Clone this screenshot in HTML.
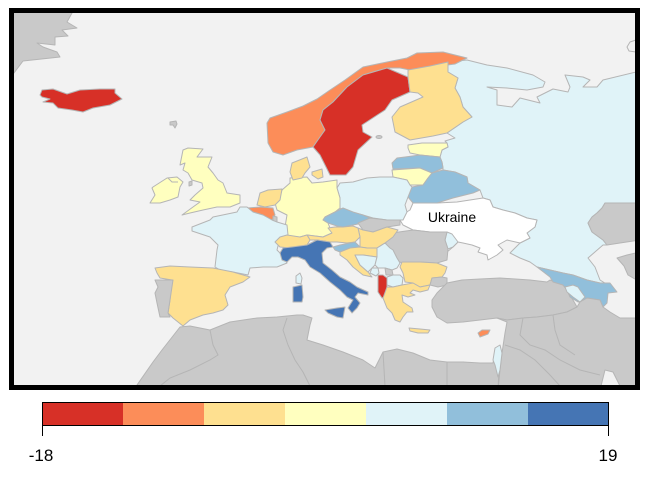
<!DOCTYPE html>
<html><head><meta charset="utf-8"><style>
html,body{margin:0;padding:0;background:#fff;}
svg{display:block;}
</style></head><body>
<svg width="655" height="485" viewBox="0 0 655 485" xmlns="http://www.w3.org/2000/svg">
<defs><clipPath id="c"><rect x="14" y="13" width="621" height="372"/></clipPath></defs>
<rect x="14" y="13" width="621" height="372" fill="#f2f2f2"/>
<g clip-path="url(#c)" stroke="#b5b5b5" stroke-width="1" stroke-linejoin="round">
<!-- Greenland -->
<polygon fill="#c9c9c9" points="10,10 72,10 72,13 67,22 77,28 62,30 68,36 55,37 55,45 37,43 43,47 57,52 60,57 23,61 14,73 10,74"/>
<!-- Iceland -->
<polygon fill="#d73027" points="40,95 42,90 53,89 67,94 80,90 100,89 115,89 115,93 122,99 110,105 93,108 83,112 72,110 58,108 53,103 43,102 50,99 42,97"/>
<polygon fill="#c9c9c9" points="170,122 176,121 177,124 175,128 173,125 170,125"/>
<!-- Russia -->
<polygon fill="#e0f3f8" points="448,62 467,60 487,65 507,68 533,75 545,82 543,87 527,90 507,88 487,87 497,90 497,105 512,107 520,98 540,103 537,97 553,89 568,92 570,87 565,75 583,77 590,80 583,87 597,87 603,80 640,71 640,203 605,203 602,208 597,213 592,217 588,223 592,232 603,240 607,245 603,245 588,258 595,267 600,280 608,285 600,283 587,280 573,275 563,273 550,270 537,267 530,262 520,258 510,253 520,243 530,238 527,233 535,227 537,220 527,218 515,213 503,210 493,207 490,200 483,198 480,190 468,183 467,177 455,172 443,170 443,168 442,162 440,157 442,150 448,147 447,143 445,141 455,138 447,133 463,122 472,117 463,107 460,97 455,88 458,78 448,72"/>
<polygon fill="#f2f2f2" points="627,47 630,42 636,40 636,52 629,51"/>
<!-- Kazakhstan -->
<polygon fill="#c9c9c9" points="605,203 640,203 640,240 620,243 607,245 603,240 592,232 588,223 592,217 597,213 602,208"/>
<polygon fill="#c9c9c9" points="617,258 627,255 640,252 640,282 628,275 624,266"/>
<!-- Norway -->
<polygon fill="#fc8d59" points="267,123 270,118 287,112 303,106 317,99 330,90 345,80 363,67 387,62 407,58 417,53 443,52 467,58 455,64 440,66 420,70 410,70 400,68 387,68 363,75 347,87 333,102 323,110 320,120 325,130 320,137 313,147 297,150 283,155 273,152 268,143"/>
<!-- Sweden -->
<polygon fill="#d73027" points="323,110 333,102 347,87 363,75 387,68 408,77 410,92 392,100 385,110 362,125 363,132 372,137 358,150 353,167 346,175 330,175 320,155 313,147 320,137 325,130 320,120"/>
<ellipse cx="379" cy="137" rx="3" ry="1.5" fill="#c9c9c9"/>
<!-- Finland -->
<polygon fill="#fee090" points="408,70 430,66 448,62 448,72 458,78 455,88 460,97 463,107 472,117 463,122 447,133 433,136 410,140 395,132 392,117 400,107 423,97 418,93 410,92 408,77"/>
<!-- Baltics -->
<polygon fill="#ffffbf" points="408,145 422,143 447,143 448,147 442,150 440,157 420,155 410,153 408,148"/>
<polygon fill="#91bfdb" points="392,163 397,158 405,157 420,155 440,157 442,162 443,168 432,173 420,168 393,169"/>
<polygon fill="#ffffbf" points="392,170 420,168 432,173 428,178 423,185 410,185 407,180 393,177"/>
<polygon fill="#91bfdb" points="432,173 443,170 455,172 467,177 468,183 480,190 473,193 453,198 437,203 413,203 408,197 412,187 423,185 428,178"/>
<!-- Ukraine -->
<polygon fill="#ffffff" points="413,203 437,203 457,202 483,198 490,200 493,207 503,210 515,213 527,218 537,220 535,227 527,233 530,238 520,243 507,240 498,245 503,250 497,255 488,260 487,255 478,252 480,248 472,245 463,243 458,242 453,247 447,252 448,245 452,240 447,232 430,232 413,230 403,225 400,220 405,213 410,210"/>
<polygon fill="#e0f3f8" points="447,232 452,234 455,238 458,242 453,247 448,249 445,240"/>
<!-- Romania -->
<polygon fill="#c9c9c9" points="392,233 413,230 430,232 447,232 445,240 448,249 447,260 437,263 420,262 403,263 393,260 390,250 385,245 387,240"/>
<!-- Poland -->
<polygon fill="#e0f3f8" points="337,188 340,183 353,182 367,178 380,177 393,177 407,180 410,185 412,187 408,197 405,205 407,212 403,220 387,220 373,218 363,215 355,213 347,212 340,208 340,198"/>
<!-- Germany -->
<polygon fill="#ffffbf" points="282,190 290,183 290,178 307,177 312,183 323,182 337,180 337,188 340,198 340,208 335,212 325,217 323,220 328,223 332,233 323,237 307,235 300,237 287,237 285,227 287,215 277,210 275,203 280,197"/>
<!-- Denmark -->
<polygon fill="#fee090" points="292,163 307,157 310,167 305,173 302,178 293,180 290,172"/>
<polygon fill="#fee090" points="312,172 322,169 323,177 318,179 312,175"/>
<!-- Czech -->
<polygon fill="#91bfdb" points="325,217 335,212 343,208 353,212 363,215 370,218 363,223 353,225 343,227 337,226 328,223 323,220"/>
<!-- Slovakia -->
<polygon fill="#c9c9c9" points="358,223 370,218 387,220 400,220 400,225 387,227 373,232 363,230"/>
<!-- Hungary -->
<polygon fill="#fee090" points="358,228 363,230 373,232 387,227 398,230 393,237 385,243 377,248 367,248 360,247 360,237"/>
<!-- Austria -->
<polygon fill="#fee090" points="307,235 323,237 332,233 328,228 335,227 343,227 353,226 358,228 360,237 355,242 347,243 337,242 330,242 317,240 310,240"/>
<!-- Netherlands / Belgium -->
<polygon fill="#fee090" points="260,193 268,190 282,189 280,200 275,205 265,207 257,205"/>
<polygon fill="#fc8d59" points="247,208 260,207 273,208 275,215 272,220 263,215 253,212"/>
<polygon fill="#c9c9c9" points="273,216 277,217 277,222 273,221"/>
<!-- France -->
<polygon fill="#e0f3f8" points="192,227 210,220 213,217 237,212 240,207 247,207 253,212 263,215 272,220 277,222 287,225 288,235 280,238 277,250 282,255 287,263 277,267 263,267 250,268 248,275 233,272 220,270 215,267 217,250 218,245 210,237 192,231"/>
<polygon fill="#e0f3f8" points="296,276 300,273 302,278 301,284 296,283"/>
<!-- Switzerland -->
<polygon fill="#fee090" points="280,237 287,235 300,237 307,235 310,240 307,245 297,247 290,248 280,247 275,242"/>
<!-- Spain / Portugal -->
<polygon fill="#fee090" points="155,268 170,266 190,267 213,268 233,272 250,277 243,282 230,287 225,295 228,305 223,310 213,313 203,315 190,320 183,326 173,318 168,313 170,300 172,280 160,278 157,273"/>
<polygon fill="#c9c9c9" points="155,280 173,280 170,300 168,313 170,317 160,317 157,303 155,293 158,287"/>
<!-- Italy -->
<polygon fill="#4575b4" points="280,253 283,248 292,247 307,245 317,240 330,242 333,247 327,248 322,253 323,263 332,270 340,277 350,282 357,287 368,292 368,295 358,293 355,297 360,303 357,308 352,313 348,308 353,300 347,297 340,290 330,282 320,273 310,267 305,260 298,257 292,257 287,262 282,260"/>
<polygon fill="#4575b4" points="325,310 337,308 345,307 343,318 337,317 328,313"/>
<polygon fill="#4575b4" points="293,287 302,285 303,297 302,302 293,302 293,293"/>
<!-- Balkans -->
<polygon fill="#91bfdb" points="333,247 340,245 350,243 355,242 360,247 350,248 340,252 335,250"/>
<polygon fill="#fee090" points="340,252 350,248 360,247 367,248 377,248 377,257 363,255 355,255 360,265 368,272 372,277 363,275 353,267 347,260 340,255"/>
<polygon fill="#e0f3f8" points="355,255 363,255 377,257 375,265 372,268 368,272 360,265"/>
<polygon fill="#e0f3f8" points="377,248 385,243 390,248 393,250 397,258 400,263 397,268 392,270 385,268 378,268 375,265 377,257"/>
<polygon fill="#e0f3f8" points="372,268 378,268 379,273 376,276 370,273"/>
<polygon fill="#c9c9c9" points="385,268 392,270 393,275 386,275"/>
<polygon fill="#d73027" points="378,275 383,275 387,278 387,287 385,297 382,298 378,292 378,283"/>
<polygon fill="#e0f3f8" points="387,277 393,275 400,275 403,278 402,285 393,287 387,285"/>
<polygon fill="#fee090" points="402,262 420,262 437,263 447,267 445,273 442,277 432,278 430,285 420,287 413,283 405,282 403,273 400,267"/>
<polygon fill="#fee090" points="383,298 387,287 393,287 402,285 413,283 420,287 430,285 428,290 420,292 413,290 410,293 415,295 408,297 402,295 403,302 412,308 413,312 407,312 403,317 400,322 395,320 392,313 387,308"/>
<polygon fill="#fee090" points="409,328 420,329 430,330 428,333 418,333 410,331"/>
<!-- Turkey -->
<polygon fill="#c9c9c9" points="432,278 442,277 447,278 447,285 438,287 430,285"/>
<polygon fill="#c9c9c9" points="437,293 447,283 462,280 480,279 500,278 530,280 547,282 550,280 563,285 567,290 573,300 577,307 567,312 553,315 537,317 523,318 507,320 497,318 463,322 447,323 437,317 432,307 432,300"/>
<polygon fill="#fc8d59" points="478,333 482,330 490,330 488,334 480,337"/>
<!-- Caucasus -->
<polygon fill="#91bfdb" points="537,267 550,270 563,273 573,275 587,280 600,283 610,283 617,292 608,293 607,303 603,307 600,300 587,298 585,302 578,302 570,297 567,290 563,285 553,282 550,277"/>
<polygon fill="#e0f3f8" points="565,287 573,285 578,287 580,290 585,297 580,302 573,297 567,292"/>
<!-- Middle East / Iran -->
<polygon fill="#c9c9c9" points="497,318 507,320 523,318 537,317 553,315 567,312 577,307 580,302 587,298 600,300 603,307 610,312 620,318 640,318 640,390 622,390 613,372 605,370 600,390 498,390 500,370 502,353 505,333 507,322"/>
<!-- North Africa -->
<polygon fill="#c9c9c9" points="137,390 137,385 153,362 162,350 180,327 190,326 210,330 230,322 257,318 277,317 297,315 303,315 312,318 310,325 307,340 323,345 343,352 363,360 375,368 383,352 397,349 413,353 430,360 447,362 463,362 480,363 493,363 495,353 500,347 498,390"/>
<polygon fill="#e0f3f8" points="495,348 500,345 502,353 500,370 498,377 495,365 493,360"/>
<!-- UK & Ireland -->
<polygon fill="#ffffbf" points="183,150 188,148 203,149 197,157 212,157 208,167 213,173 218,180 223,183 227,193 240,195 240,203 230,207 217,207 203,210 190,213 182,215 193,207 200,202 190,200 195,195 203,188 202,183 192,180 188,173 183,170 185,163 180,165 182,155"/>
<polygon fill="#ffffbf" points="153,187 167,178 177,177 183,182 180,187 178,197 170,200 160,203 150,203 155,195 152,188"/>
<polygon fill="#c9c9c9" points="189,182 192,181 192,185 189,186"/>
</g>
<g fill="none" stroke="#b5b5b5" stroke-width="1" clip-path="url(#c)">
<polyline points="210,330 213,345 218,355 210,360 190,370 170,378 160,386"/>
<polyline points="287,318 283,330 288,345 295,360 303,372 310,386"/>
<polyline points="383,352 385,386"/>
<polyline points="447,362 447,386"/>
<polyline points="523,318 520,335 530,345 545,350 560,360 580,370 600,375"/>
<polyline points="553,315 555,330 560,345 575,355"/>
<polyline points="505,345 520,350 535,360 550,375 560,386"/>
<polyline points="168,178 172,182 178,182"/>
</g>
<rect x="11.5" y="10.5" width="626" height="377" fill="none" stroke="#000" stroke-width="5"/>
<text x="452" y="222" font-family="Liberation Sans, sans-serif" font-size="14" text-anchor="middle" fill="#000">Ukraine</text>
<!-- Legend -->
<g shape-rendering="crispEdges">
<rect x="42" y="402" width="81" height="23" fill="#d73027"/>
<rect x="123" y="402" width="81" height="23" fill="#fc8d59"/>
<rect x="204" y="402" width="81" height="23" fill="#fee090"/>
<rect x="285" y="402" width="81" height="23" fill="#ffffbf"/>
<rect x="366" y="402" width="81" height="23" fill="#e0f3f8"/>
<rect x="447" y="402" width="81" height="23" fill="#91bfdb"/>
<rect x="528" y="402" width="81" height="23" fill="#4575b4"/>
<rect x="42.5" y="402.5" width="566" height="23" fill="none" stroke="#000" stroke-width="1"/>
<line x1="42.5" y1="425" x2="42.5" y2="436" stroke="#000"/>
<line x1="608.5" y1="425" x2="608.5" y2="436" stroke="#000"/>
</g>
<text x="41" y="461" font-family="Liberation Sans, sans-serif" font-size="17" text-anchor="middle" fill="#000">-18</text>
<text x="608" y="461" font-family="Liberation Sans, sans-serif" font-size="17" text-anchor="middle" fill="#000">19</text>
</svg>
</body></html>
